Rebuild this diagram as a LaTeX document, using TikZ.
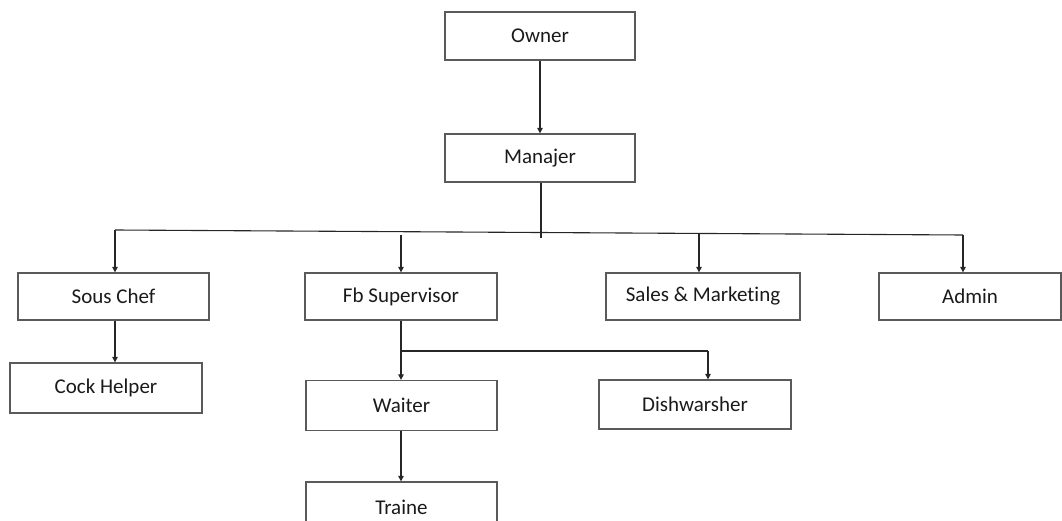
\documentclass[tikz,border=0pt]{standalone}
\usepackage{fontspec}
\setmainfont[Ligatures=NoCommon]{Carlito}
\usetikzlibrary{arrows.meta}
\definecolor{boxline}{HTML}{5A5A5A}
\definecolor{txt}{HTML}{1A1A1A}
\tikzset{
  orgbox/.style={draw=boxline, line width=1.3pt, fill=white, minimum width=191pt, minimum height=48pt, inner sep=0pt, font=\fontsize{21}{25}\selectfont, text=txt},
  conn/.style={draw=black!85, line width=1.1pt},
  arr/.style={conn, -{Triangle[width=5.5pt,length=5.5pt]}}
}
\begin{document}
\begin{tikzpicture}[x=1pt,y=-1pt]
\useasboundingbox (0,0) rectangle (1062,521);
\clip (0,0) rectangle (1062,521);
\node[orgbox, minimum width=190pt] (owner) at (540,36) {Owner};
\node[orgbox, minimum width=190pt] (manajer) at (540,158) {Manajer};
\node[orgbox, minimum height=47pt] (sous) at (113.5,296.5) {Sous Chef};
\node[orgbox, minimum width=192pt, minimum height=47pt] (fb) at (401,296.5) {Fb Supervisor};
\node[orgbox, minimum width=194pt, minimum height=47pt] (sales) at (703,296.5) {Sales \& Marketing};
\node[orgbox, minimum width=182pt, minimum height=47pt] (admin) at (970,296.5) {Admin};
\node[orgbox, minimum width=192pt, minimum height=50pt] (cock) at (106,388) {Cock Helper};
\node[orgbox, minimum height=50pt] (waiter) at (401.5,405.5) {Waiter};
\node[orgbox, minimum width=192pt, minimum height=49pt] (dish) at (695,404.5) {Dishwarsher};
\node[orgbox, minimum height=50pt] (traine) at (401.5,507) {Traine};

\coordinate (hl) at (115,230);
\coordinate (hr) at (963,235);
\coordinate (mend) at (541,238);
\coordinate (fbtap) at (401,235);
\coordinate (salestap) at (699,233.5);
\coordinate (split) at (401,351);
\coordinate (dishtop) at (708,351);

\draw[arr] (owner.south) -- (manajer.north);
\draw[conn] (manajer.south -| mend) -- (mend);
\draw[conn] (hl) -- (hr);
\draw[arr] (hl) -- (hl |- sous.north);
\draw[arr] (fbtap) -- (fbtap |- fb.north);
\draw[arr] (salestap) -- (salestap |- sales.north);
\draw[arr] (hr) -- (hr |- admin.north);
\draw[arr] (hl |- sous.south) -- (hl |- cock.north);
\draw[arr] (fb.south) -- (waiter.north -| fb.south);
\draw[conn] (split) -- (dishtop);
\draw[arr] (dishtop) -- (dishtop |- dish.north);
\draw[arr] (waiter.south -| fb.south) -- (traine.north -| fb.south);
\end{tikzpicture}
\end{document}
